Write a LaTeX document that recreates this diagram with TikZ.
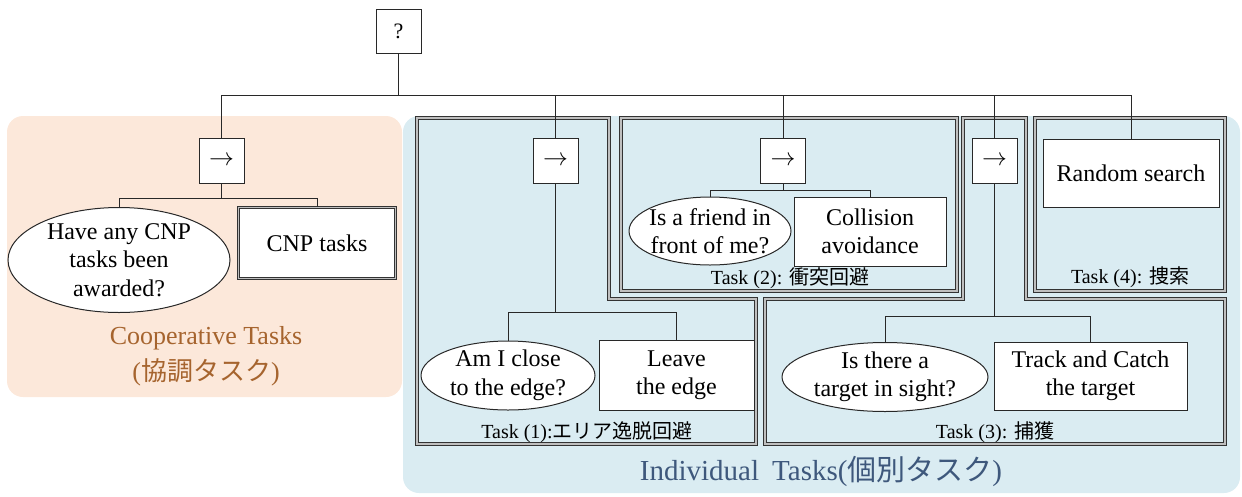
\documentclass[tikz,border=0pt]{standalone}
\usepackage{fontspec}
\setmainfont{Liberation Serif}
\newfontfamily\jp{Noto Sans CJK JP}
\usetikzlibrary{shapes.geometric}

\definecolor{coopbg}{RGB}{252,232,218}
\definecolor{indivbg}{RGB}{218,236,242}
\definecolor{cooptext}{RGB}{166,100,46}
\definecolor{indivtext}{RGB}{62,88,124}
\definecolor{edge}{RGB}{40,40,40}

\tikzset{
  link/.style={draw=edge, line width=1pt},
  ctrl/.style={draw=edge, fill=white, line width=1pt, minimum width=45pt, minimum height=45pt, inner sep=0pt, font=\fontsize{22}{26}\selectfont},
  act/.style={draw=edge, fill=white, line width=1pt, align=center, inner sep=0pt, font=\fontsize{24}{28.5}\selectfont},
  cond/.style={draw=edge, fill=white, ellipse, line width=1pt, inner sep=0pt},
  condtext/.style={align=center, inner sep=0pt, font=\fontsize{24}{28.5}\selectfont},
  taskline/.style={draw=black!80, line width=0.9pt, double=black!25, double distance=1.3pt},
  tasklabel/.style={inner sep=0pt, font=\fontsize{20}{24}\selectfont},
  grouplabel/.style={align=center, inner sep=0pt}
}
\newcommand{\seqarrow}{{\fontsize{26}{26}\selectfont$\rightarrow$}}

\begin{document}
\begin{tikzpicture}[x=1pt, y=-1pt]
\useasboundingbox (0,0) rectangle (1242,496);

% group backgrounds
\fill[coopbg, rounded corners=16pt] (7,116) rectangle (402,397);
\fill[indivbg, rounded corners=16pt] (403,116) rectangle (1240,493);

% task frames
\draw[taskline] (417,118) -- (609,118) -- (609,299) -- (756,299) -- (756,444) -- (417,444) -- cycle;
\draw[taskline] (621,118) rectangle (957,291);
\draw[taskline] (963,118) -- (1026,118) -- (1026,299) -- (1225,299) -- (1225,444) -- (765,444) -- (765,299) -- (963,299) -- cycle;
\draw[taskline] (1035,118) rectangle (1225,291);

% root selector and sequences
\node[ctrl, minimum width=45pt, minimum height=44pt] (root) at (398.5,31) {?};
\node[ctrl] (s0) at (221.5,161) {\seqarrow};
\node[ctrl] (s1) at (555.5,161) {\seqarrow};
\node[ctrl] (s2) at (783,161) {\seqarrow};
\node[ctrl] (s3) at (994.5,161) {\seqarrow};
\node[act, minimum width=176pt, minimum height=68pt] (rs) at (1131,173) {Random search};

% cooperative branch
\node[cond, minimum width=222pt, minimum height=105pt] (c0) at (119,260) {};
\node[condtext] (c0t) at (c0) {Have any CNP\\tasks been\\awarded?};
\node[act, minimum width=157pt, minimum height=71pt, draw=black!80, line width=0.9pt, double=black!25, double distance=1.3pt] (a0) at (317,243) {CNP tasks};

% task (1)
\node[cond, minimum width=174pt, minimum height=69pt] (c1) at (508,375.5) {};
\node[condtext] (c1t) at (c1) {Am I close\\to the edge?};
\node[act, minimum width=155pt, minimum height=70pt] (a1) at (676.5,375) {Leave\\the edge};

% task (2)
\node[cond, minimum width=162pt, minimum height=68pt] (c2) at (710,231) {};
\node[condtext] (c2t) at (c2) {Is a friend in\\front of me?};
\node[act, minimum width=152pt, minimum height=69pt] (a2) at (870,231.5) {Collision\\avoidance};

% task (3)
\node[cond, minimum width=206pt, minimum height=69pt] (c3) at (885,377) {};
\node[condtext] (c3t) at (c3) {Is there a\\target in sight?};
\node[act, minimum width=193pt, minimum height=68pt] (a3) at (1090.5,376) {Track and Catch\\the target};

% connectors: root to children
\coordinate (bus) at (398.5,95);
\draw[link] (root.south) -- (bus);
\draw[link] (bus) -| (s0.north);
\draw[link] (bus) -| (s1.north);
\draw[link] (bus) -| (s2.north);
\draw[link] (bus) -| (s3.north);
\draw[link] (bus) -| (rs.north);

% connectors: sequences to children
\coordinate (b0) at (221.5,198);
\draw[link] (s0.south) -- (b0);
\draw[link] (b0) -| (c0.north);
\draw[link] (b0) -| (a0.north);

\coordinate (b1) at (555.5,312);
\draw[link] (s1.south) -- (b1);
\draw[link] (b1) -| (c1.north);
\draw[link] (b1) -| (a1.north);

\coordinate (b2) at (783,190);
\draw[link] (s2.south) -- (b2);
\draw[link] (b2) -| (c2.north);
\draw[link] (b2) -| (a2.north);

\coordinate (b3) at (994.5,316);
\draw[link] (s3.south) -- (b3);
\draw[link] (b3) -| (c3.north);
\draw[link] (b3) -| (a3.north);

% task captions
\node[tasklabel] (t1) at (587,432) {Task (1):{\jp エリア逸脱回避}};
\node[tasklabel] (t2) at (790,278) {Task (2): {\jp 衝突回避}};
\node[tasklabel] (t3) at (995,432) {Task (3): {\jp 捕獲}};
\node[tasklabel] (t4) at (1130,277) {Task (4): {\jp 捜索}};

% group captions
\node[grouplabel, text=cooptext, font=\fontsize{26}{36}\selectfont] (gcoop) at (206,356) {Cooperative Tasks\\({\jp 協調タスク})};
\node[grouplabel, text=indivtext, font=\fontsize{29}{34}\selectfont] (gind) at (821,471) {Individual\hspace{0.45em}Tasks({\jp 個別タスク})};
\end{tikzpicture}
\end{document}
